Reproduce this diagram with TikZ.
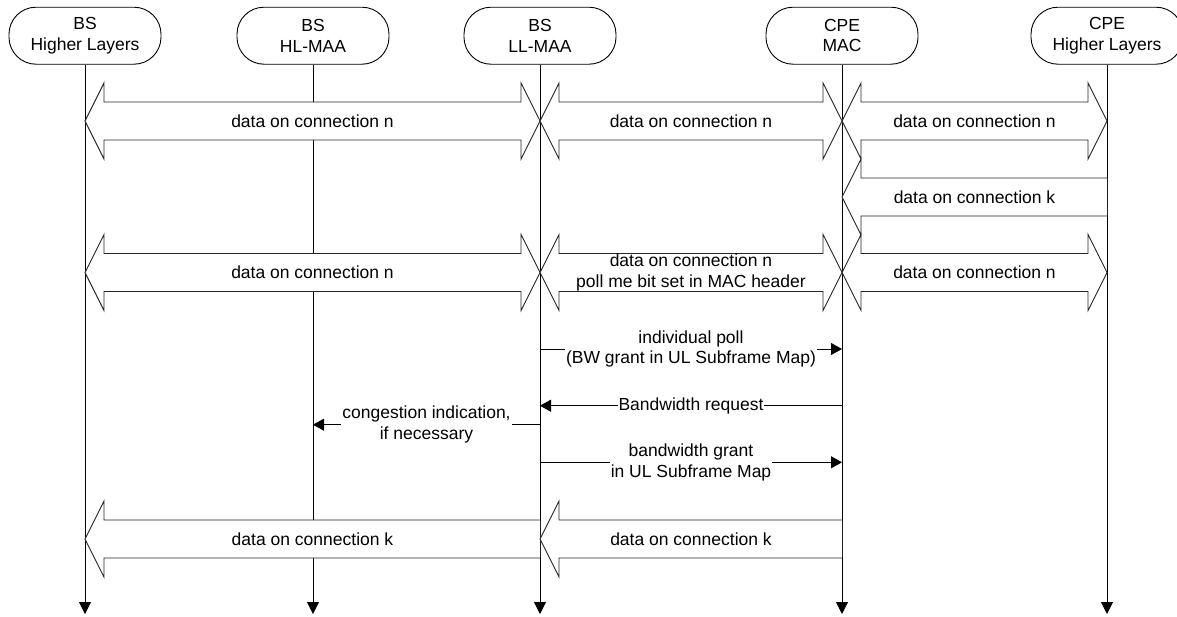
\documentclass[tikz,border=0pt]{standalone}
\usepackage{fontspec}
\setmainfont{Liberation Sans}
\usetikzlibrary{calc,arrows.meta}
\newcommand\dblblk[3]{%
  \path[blk] (#1|-#3) -- ++(19,-38) -- ++(0,19) -- ($(#2|-#3)+(-19,-19)$) -- ++(0,-19)
    -- (#2|-#3) -- ++(-19,38) -- ++(0,-19) -- ($(#1|-#3)+(19,19)$) -- ++(0,19) -- cycle;}
\newcommand\blkleft[3]{%
  \path[blk] ($(#2|-#3)+(0,-19)$) -- ($(#1|-#3)+(19,-19)$) -- ++(0,-19) -- (#1|-#3)
    -- ++(19,38) -- ++(0,-19) -- ($(#2|-#3)+(0,19)$);}
\begin{document}
\begin{tikzpicture}[x=1pt,y=-1pt,
  every node/.style={font=\fontsize{17.5}{20.5}\selectfont, align=center, inner sep=0pt},
  hdr/.style={draw, line width=0.9pt, rounded corners=27pt, minimum width=152pt, minimum height=57pt},
  life/.style={line width=0.9pt, -{Triangle[length=12pt,width=12pt]}},
  blk/.style={draw=black!85, fill=white, line width=0.9pt, line join=miter},
  msg/.style={line width=0.9pt, -{Triangle[length=11pt,width=12pt]}},
  lbl/.style={fill=white, inner xsep=1pt, inner ysep=0pt}]
\useasboundingbox (0,0) rectangle (1177,616);
% headers
\node[hdr] (h1) at (85,35.7) {BS\\Higher Layers};
\node[hdr] (h2) at (313,35.7) {BS\\HL-MAA};
\node[hdr] (h3) at (540,35.7) {BS\\LL-MAA};
\node[hdr] (h4) at (842,35.7) {CPE\\MAC};
\node[hdr] (h5) at (1107,35.7) {CPE\\Higher Layers};
% lifeline ends
\coordinate (e1) at (85,614);
\coordinate (e2) at (313,614);
\coordinate (e3) at (540,614);
\coordinate (e4) at (842,614);
\coordinate (e5) at (1107,614);
\foreach \i in {1,...,5} {\draw[life] (h\i) -- (e\i);}
% rows
\coordinate (r1) at (0,121);
\coordinate (r2) at (0,197);
\coordinate (r3) at (0,272.5);
\coordinate (r4) at (0,539);
\coordinate (m1) at (0,349);
\coordinate (m2) at (0,405.7);
\coordinate (m3) at (0,424.7);
\coordinate (m4) at (0,462.3);
% row 1
\dblblk{h1}{h3}{r1}
\dblblk{h3}{h4}{r1}
\dblblk{h4}{h5}{r1}
\node (t1) at ($(h1|-r1)!0.5!(h3|-r1)$) {data on connection n};
\node (t2) at ($(h3|-r1)!0.5!(h4|-r1)$) {data on connection n};
\node (t3) at ($(h4|-r1)!0.5!(h5|-r1)$) {data on connection n};
% row 2
\blkleft{h4}{h5}{r2}
\node (t4) at ($(h4|-r2)!0.5!(h5|-r2)$) {data on connection k};
% row 3
\dblblk{h1}{h3}{r3}
\dblblk{h3}{h4}{r3}
\dblblk{h4}{h5}{r3}
\node (t5) at ($(h1|-r3)!0.5!(h3|-r3)$) {data on connection n};
\node (t6) at ($(h3|-r3)!0.5!(h4|-r3)$) {data on connection n\\poll me bit set in MAC header};
\node (t7) at ($(h4|-r3)!0.5!(h5|-r3)$) {data on connection n};
% messages
\draw[msg] (h3|-m1) -- (h4|-m1) node[lbl,midway] (t8) {individual poll\\(BW grant in UL Subframe Map)};
\draw[msg] (h4|-m2) -- (h3|-m2) node[lbl,midway] (t9) {Bandwidth request};
\draw[msg] (h3|-m3) -- (h2|-m3) node[lbl,midway] (t10) {congestion indication,\\if necessary};
\draw[msg] (h3|-m4) -- (h4|-m4) node[lbl,midway] (t11) {bandwidth grant\\in UL Subframe Map};
% bottom row
\blkleft{h1}{h3}{r4}
\blkleft{h3}{h4}{r4}
\node (t12) at ($(h1|-r4)!0.5!(h3|-r4)$) {data on connection k};
\node (t13) at ($(h3|-r4)!0.5!(h4|-r4)$) {data on connection k};
\end{tikzpicture}
\end{document}
